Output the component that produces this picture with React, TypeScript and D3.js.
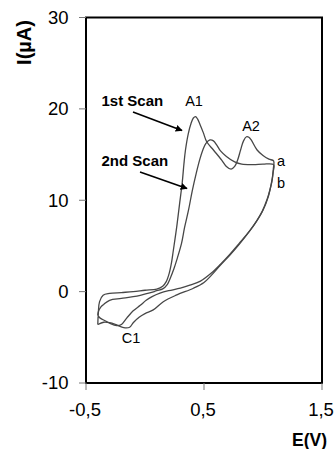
import React from "react";
import * as d3 from "d3";

// Scan 1 (curve a): forward sweep then reverse sweep, [E (V), I (µA)]
const scan1Forward: [number, number][] = [
  [-0.4, -3.6], [-0.395, -2.2], [-0.385, -1.1], [-0.355, -0.4], [-0.3, -0.2], [-0.2, -0.1],
  [-0.1, 0.0], [0.0, 0.15], [0.1, 0.28], [0.15, 0.6], [0.18, 1.1], [0.205, 2.0], [0.225, 3.2],
  [0.24, 4.5], [0.268, 7.0], [0.292, 9.5], [0.316, 12.0], [0.33, 14.0], [0.343, 15.5],
  [0.367, 17.3], [0.39, 18.4], [0.41, 19.0], [0.428, 19.15], [0.445, 18.9], [0.466, 18.3],
  [0.494, 17.4], [0.523, 16.4], [0.58, 15.5], [0.65, 14.4], [0.69, 13.7], [0.73, 13.4],
  [0.76, 13.7], [0.785, 14.4], [0.81, 15.5], [0.835, 16.5], [0.86, 16.95], [0.88, 16.9],
  [0.9, 16.6], [0.95, 15.5], [1.0, 14.9], [1.05, 14.5], [1.09, 14.3],
];
const scan1Reverse: [number, number][] = [
  [1.088, 13.5], [1.08, 12.5], [1.07, 11.8], [1.045, 10.4], [1.0, 8.9], [0.95, 7.8],
  [0.89, 6.7], [0.8, 5.3], [0.72, 4.1], [0.64, 3.0], [0.56, 2.0], [0.47, 1.15], [0.38, 0.7],
  [0.3, 0.37], [0.2, 0.1], [0.127, -0.17], [0.06, -0.55], [0.01, -0.95], [-0.04, -1.5],
  [-0.1, -2.1], [-0.155, -2.9], [-0.2, -3.6], [-0.24, -3.72], [-0.3, -3.45], [-0.35, -3.1],
  [-0.38, -2.9], [-0.4, -2.6],
];

// Scan 2 (curve b)
const scan2Forward: [number, number][] = [
  [-0.4, -2.6], [-0.395, -2.2], [-0.375, -1.7], [-0.35, -1.4], [-0.3, -0.95], [-0.2, -0.75],
  [-0.1, -0.55], [-0.04, -0.4], [0.04, -0.15], [0.1, 0.1], [0.15, 0.3], [0.19, 0.8],
  [0.215, 1.5], [0.245, 2.5], [0.27, 3.5], [0.31, 5.3], [0.335, 7.0], [0.37, 9.0],
  [0.4, 11.0], [0.435, 13.0], [0.465, 14.5], [0.49, 15.5], [0.515, 16.2], [0.55, 16.6],
  [0.58, 16.5], [0.61, 16.0], [0.64, 15.4], [0.69, 14.8], [0.76, 14.2], [0.82, 13.95],
  [0.92, 13.9], [1.0, 13.95], [1.09, 13.9],
];
const scan2Reverse: [number, number][] = [
  [1.085, 13.0], [1.075, 12.0], [1.06, 11.2], [1.035, 10.1], [0.99, 8.7], [0.94, 7.6],
  [0.88, 6.5], [0.8, 5.2], [0.72, 4.0], [0.64, 2.9], [0.56, 1.75], [0.5, 1.0], [0.41, 0.37],
  [0.27, -0.36], [0.155, -1.1], [0.07, -2.0], [0.0, -2.4], [-0.05, -2.8], [-0.1, -3.4],
  [-0.13, -3.9], [-0.18, -3.95], [-0.24, -3.65], [-0.3, -3.4], [-0.35, -3.35], [-0.4, -3.6],
];

const xTicks = [-0.5, 0.5, 1.5];
const xTickLabels = ["-0,5", "0,5", "1,5"];
const yTicks = [-10, 0, 10, 20, 30];
const yTickLabels = ["-10", "0", "10", "20", "30"];

const W = 336;
const H = 449;
const FONT = "'Liberation Sans', Arial, sans-serif";

export default function App() {
  const x = d3.scaleLinear().domain([-0.5, 1.5]).range([86, 322]);
  const y = d3.scaleLinear().domain([-10, 30]).range([383, 17.5]);

  const line = d3
    .line<[number, number]>()
    .x((d) => x(d[0]))
    .y((d) => y(d[1]))
    .curve(d3.curveCatmullRom.alpha(0.5));

  const path1 = line([...scan1Forward, ...scan1Reverse]) || "";
  const path2 = line([...scan2Forward, ...scan2Reverse]) || "";

  const curveColor = "#474747";

  return (
    <svg
      width={W}
      height={H}
      style={{ position: "absolute", left: 0, top: 0, background: "#fff" }}
      fontFamily={FONT}
    >
      <defs>
        <marker
          id="arrow"
          viewBox="0 0 10 10"
          refX="9"
          refY="5"
          markerWidth="7"
          markerHeight="7"
          markerUnits="userSpaceOnUse"
          orient="auto"
        >
          <path d="M0,0 L10,5 L0,10 z" fill="#000" />
        </marker>
      </defs>
      <rect x={0} y={0} width={W} height={H} fill="#fff" />

      {/* curves */}
      <path d={path1} fill="none" stroke={curveColor} strokeWidth={1.3} strokeLinejoin="round" />
      <path d={path2} fill="none" stroke={curveColor} strokeWidth={1.3} strokeLinejoin="round" />

      {/* frame */}
      <rect
        x={x(-0.5)}
        y={y(30)}
        width={x(1.5) - x(-0.5)}
        height={y(-10) - y(30)}
        fill="none"
        stroke="#000"
        strokeWidth={2}
      />

      {/* y ticks */}
      {yTicks.map((t, i) => (
        <g key={"y" + t}>
          <line x1={x(-0.5) - 7} x2={x(-0.5)} y1={y(t)} y2={y(t)} stroke="#777" strokeWidth={1} />
          <text x={68.5} y={y(t)} dy="0.35em" textAnchor="end" fontSize={18.5} fill="#000">
            {yTickLabels[i]}
          </text>
        </g>
      ))}

      {/* x ticks */}
      {xTicks.map((t, i) => (
        <g key={"x" + t}>
          <line x1={x(t)} x2={x(t)} y1={y(-10)} y2={y(-10) + 7} stroke="#777" strokeWidth={1} />
          <text x={x(t) - 1} y={416} textAnchor="middle" fontSize={18.5} fill="#000">
            {xTickLabels[i]}
          </text>
        </g>
      ))}

      {/* axis titles */}
      <text x={327} y={446} textAnchor="end" fontSize={17.5} fontWeight="bold" fill="#000">
        E(V)
      </text>
      <text
        transform="translate(31,42.5) rotate(-90)"
        textAnchor="middle"
        fontSize={20}
        fontWeight="bold"
        fill="#000"
      >
        I(µA)
      </text>

      {/* annotations */}
      <text x={101.5} y={106} fontSize={15} fontWeight="bold" fill="#000">
        1st Scan
      </text>
      <line x1={133} y1={112} x2={182} y2={130.5} stroke="#000" strokeWidth={1.6} markerEnd="url(#arrow)" />
      <text x={101.5} y={166} fontSize={15} fontWeight="bold" fill="#000">
        2nd Scan
      </text>
      <line x1={140} y1={172} x2={187} y2={188.5} stroke="#000" strokeWidth={1.6} markerEnd="url(#arrow)" />

      <text x={194} y={106} textAnchor="middle" fontSize={14.5} fill="#000">A1</text>
      <text x={251} y={131} textAnchor="middle" fontSize={14.5} fill="#000">A2</text>
      <text x={277} y={166} fontSize={14.5} fill="#000">a</text>
      <text x={277} y={188} fontSize={14.5} fill="#000">b</text>
      <text x={131} y={343} textAnchor="middle" fontSize={14.5} fill="#000">C1</text>
    </svg>
  );
}
